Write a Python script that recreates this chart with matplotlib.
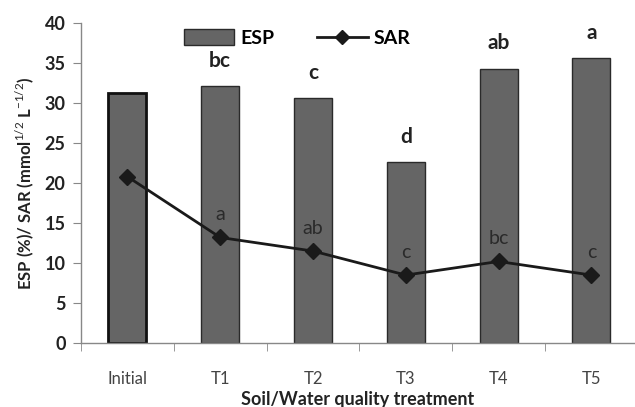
import matplotlib.pyplot as plt
from matplotlib.lines import Line2D
from matplotlib.patches import Patch
from matplotlib.ticker import FixedLocator


CATEGORIES = ["Initial", "T1", "T2", "T3", "T4", "T5"]
ESP = [31.3, 32.1, 30.6, 22.6, 34.3, 35.6]
SAR = [20.8, 13.2, 11.5, 8.5, 10.2, 8.5]
ESP_LETTERS = ["", "bc", "c", "d", "ab", "a"]
SAR_LETTERS = ["", "a", "ab", "c", "bc", "c"]

FONT = ["Lato", "DejaVu Sans"]
plt.rcParams["font.family"] = FONT
plt.rcParams["mathtext.fontset"] = "custom"
plt.rcParams["mathtext.rm"] = "Lato"
plt.rcParams["mathtext.bf"] = "Lato:bold"


def main() -> None:
    fig = plt.figure(figsize=(6.35, 4.07), dpi=100)
    ax = fig.add_axes([0.1276, 0.157, 0.8724, 0.7865])

    x = list(range(len(CATEGORIES)))
    bars = ax.bar(x, ESP, width=0.41, color="#656565", edgecolor="#2a2a2a",
                  linewidth=1.0, zorder=2)
    bars[0].set_linewidth(2.0)
    bars[0].set_edgecolor("#111111")

    ax.plot(x, SAR, color="#1a1a1a", linewidth=2, marker="D", markersize=8,
            zorder=3)

    for xi, val, lab in zip(x, ESP, ESP_LETTERS):
        if lab:
            ax.text(xi, val + 1.9, lab, ha="center", va="bottom",
                    fontsize=15, fontweight="bold", color="#222222")
    for xi, val, lab in zip(x, SAR, SAR_LETTERS):
        if lab:
            ax.text(xi, val + 1.8, lab, ha="center", va="bottom",
                    fontsize=14, color="#2a2a2a")

    ax.set_xlim(-0.5, 5.47)
    ax.set_ylim(0, 40)
    ax.set_yticks(range(0, 41, 5))
    ax.set_xticks(x)
    ax.set_xticklabels(CATEGORIES, fontsize=12, color="#444444")
    ax.xaxis.set_minor_locator(FixedLocator([i - 0.5 for i in range(6)]))
    ax.tick_params(axis="x", which="major", length=0, pad=20)
    ax.tick_params(axis="x", which="minor", length=6, color="#888888",
                   direction="out")
    ax.tick_params(axis="y", length=6, color="#888888", labelsize=13, pad=5)
    for lbl in ax.get_yticklabels():
        lbl.set_fontweight("bold")
        lbl.set_color("#222222")

    for side in ("top", "right"):
        ax.spines[side].set_visible(False)
    for side in ("left", "bottom"):
        ax.spines[side].set_color("#888888")
        ax.spines[side].set_linewidth(1.0)

    ax.set_xlabel("Soil/Water quality treatment", fontsize=13,
                  fontweight="bold", color="#222222", labelpad=3)
    ax.set_ylabel(r"ESP (%)/ SAR (mmol$^{1/2}$ L$^{-1/2}$)", fontsize=12,
                  fontweight="bold", color="#222222", labelpad=6)

    handles = [
        Patch(facecolor="#656565", edgecolor="#2a2a2a", linewidth=1.0),
        Line2D([], [], color="#1a1a1a", linewidth=2, marker="D", markersize=7),
    ]
    ax.legend(handles, ["ESP", "SAR"], loc="upper center",
              bbox_to_anchor=(0.39, 1.035), ncol=2, frameon=False,
              prop={"weight": "bold", "size": 14}, handlelength=2.6,
              handleheight=0.9, columnspacing=2.2, handletextpad=0.3)

    fig.savefig("out.png", dpi=100)
    plt.close(fig)


if __name__ == "__main__":
    main()
